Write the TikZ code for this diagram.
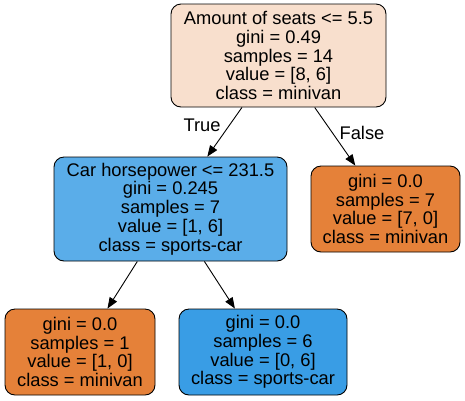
\documentclass[tikz,border=0pt]{standalone}
\usepackage{fontspec}
\setmainfont{Liberation Sans}
\usetikzlibrary{arrows.meta}
\definecolor{rootc}{HTML}{F8DFCD}
\definecolor{midc}{HTML}{5AADE9}
\definecolor{orng}{HTML}{E58139}
\definecolor{blu}{HTML}{399DE5}
\begin{document}
\begin{tikzpicture}[x=1pt,y=-1pt,
  tnode/.style={draw=black,line width=0.9pt,rounded corners=10pt,align=center,inner sep=0pt,
    font=\fontsize{18.3}{18.8}\selectfont},
  edge/.style={line width=0.9pt,-{Triangle[length=11pt,width=8.5pt]}},
  lbl/.style={font=\fontsize{18.3}{19}\selectfont}]
\useasboundingbox (0,0) rectangle (465,400);
\node[tnode,fill=rootc,minimum width=215pt,minimum height=103pt] (root) at (278.5,55.5)
  {Amount of seats <= 5.5\\gini = 0.49\\samples = 14\\value = [8, 6]\\class = minivan};
\node[tnode,fill=midc,minimum width=233pt,minimum height=104pt] (mid) at (170.5,209)
  {Car horsepower <= 231.5\\gini = 0.245\\samples = 7\\value = [1, 6]\\class = sports-car};
\node[tnode,fill=orng,minimum width=149pt,minimum height=86pt] (rleaf) at (385.5,209)
  {gini = 0.0\\samples = 7\\value = [7, 0]\\class = minivan};
\node[tnode,fill=orng,minimum width=150pt,minimum height=86pt] (bl) at (80,352)
  {gini = 0.0\\samples = 1\\value = [1, 0]\\class = minivan};
\node[tnode,fill=blu,minimum width=168pt,minimum height=86pt] (bm) at (263,352)
  {gini = 0.0\\samples = 6\\value = [0, 6]\\class = sports-car};
\draw[edge] (root) -- (mid);
\draw[edge] (root) -- (rleaf);
\draw[edge] (mid) -- (bl);
\draw[edge] (mid) -- (bm);
\node[lbl] (t) at (202,125) {True};
\node[lbl] (f) at (362,133) {False};
\end{tikzpicture}
\end{document}
